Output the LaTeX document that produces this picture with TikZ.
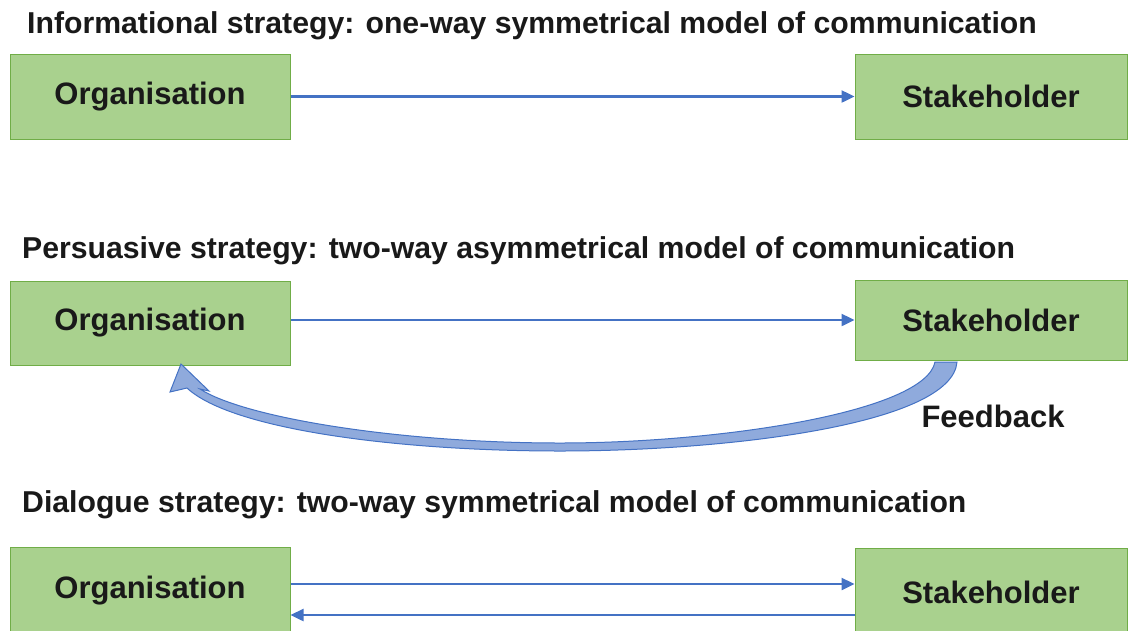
\documentclass[tikz,border=0pt]{standalone}
\usepackage{fontspec}
\setmainfont{Liberation Sans}
\usetikzlibrary{arrows.meta}
\definecolor{boxfill}{RGB}{169,209,142}
\definecolor{boxline}{RGB}{112,173,71}
\definecolor{arrblue}{RGB}{68,114,196}
\definecolor{fbfill}{RGB}{143,170,220}
\tikzset{
  box/.style={draw=boxline, line width=1pt, fill=boxfill, minimum height=85pt, inner sep=0pt, font=\fontsize{31}{33}\selectfont\bfseries, text=black!90},
  orgbox/.style={box, minimum width=280pt},
  stkbox/.style={box, minimum width=272pt},
  title/.style={anchor=base west, inner sep=0pt, font=\fontsize{30.2}{32}\selectfont\bfseries, text=black!90},
  flow/.style={draw=arrblue, line width=2.4pt, -{Triangle[length=13pt,width=12pt]}}
}
\begin{document}
\begin{tikzpicture}[x=1pt,y=-1pt]
\useasboundingbox (0,0) rectangle (1137,630);
\clip (0,0) rectangle (1137,630);
% row 1
\node[title] (t1) at (27,33) {Informational strategy: one-way symmetrical model of communication};
\node[orgbox] (o1) at (150,96.5) {Organisation};
\node[stkbox] (s1) at (991,96.5) {Stakeholder};
\draw[flow] (o1.east) -- (s1.west);
% row 2
\node[title] (t2) at (22,258) {Persuasive strategy: two-way asymmetrical model of communication};
\node[orgbox, minimum height=84pt] (o2) at (150,323) {Organisation};
\node[stkbox, minimum height=80pt] (s2) at (991,320) {Stakeholder};
\draw[flow] (s2.west -| o2.east) -- (s2.west);
% feedback arrow
\filldraw[fill=fbfill, draw=arrblue, line width=1pt]
  (935,362) .. controls (925,412) and (720,443) .. (560,443)
  .. controls (400,443) and (245,418) .. (200,389)
  -- (209,391) -- (181,364) -- (170,392) -- (187,388)
  .. controls (232,430) and (400,451) .. (560,451)
  .. controls (730,451) and (952,424) .. (957,362) -- cycle;
\node[font=\fontsize{31}{33}\selectfont\bfseries, text=black!90] (fb) at (993,416) {Feedback};
% row 3
\node[title] (t3) at (22,512) {Dialogue strategy: two-way symmetrical model of communication};
\node[orgbox, minimum height=88pt] (o3) at (150,591) {Organisation};
\node[stkbox, minimum height=88pt] (s3) at (991,592) {Stakeholder};
\draw[flow] ([yshift=7pt]o3.east) -- ([yshift=7pt]o3.east -| s3.west);
\draw[flow] ([yshift=-23pt]s3.west) -- ([yshift=-23pt]s3.west -| o3.east);
\end{tikzpicture}
\end{document}
